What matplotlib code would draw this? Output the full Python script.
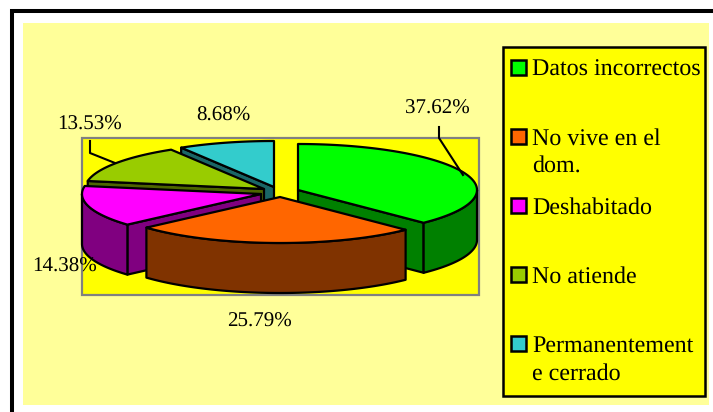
import numpy as np
import matplotlib
matplotlib.use("Agg")
import matplotlib.pyplot as plt
from matplotlib.patches import Polygon, Rectangle

plt.rcParams['font.family'] = ['Liberation Serif', 'DejaVu Serif']
plt.rcParams['text.hinting'] = 'none'

categories = ["Datos incorrectos", "No vive en el\ndom.", "Deshabitado", "No atiende", "Permanentement\ne cerrado"]
percentages = [37.62, 25.79, 14.38, 13.53, 8.68]
top_colors = ["#00FF00", "#FF6600", "#FF00FF", "#99CC00", "#33CCCC"]
side_colors = ["#008000", "#803300", "#800080", "#4D6600", "#1A6666"]

# layout, in pixels of the 713x412 picture
apex = [(298, 190), (280, 197), (261, 194), (264, 189), (274, 187)]
label_pos = [(437.5, 114), (259, 327), (64.5, 272), (90, 130), (223, 121)]
rx, ry, depth = 179, 46, 50
label_fs = 21 * 72 / 100
legend_fs = 24 * 72 / 100

fig = plt.figure(figsize=(7.13, 4.12), dpi=100, facecolor="white")
ax = fig.add_axes([0, 0, 1, 1])
ax.set_xlim(0, 713)
ax.set_ylim(412, 0)
ax.axis("off")

# page frame and chart area
ax.plot([11.5, 11.5, 713], [412, 11, 11], color="black", lw=2.9, solid_joinstyle="miter")
ax.add_patch(Rectangle((23, 23), 686, 382, fc="#FFFF99", ec="none"))
ax.add_patch(Rectangle((82, 138), 396.5, 157, fc="#FFFF00", ec="#808080", lw=1.6))


def rim_point(cx, cy, t):
    return cx + rx * np.sin(t), cy - ry * np.cos(t)


def arc(cx, cy, t0, t1):
    ts = np.linspace(t0, t1, 80)
    return np.column_stack(rim_point(cx, cy, ts))


def draw(points, color, z):
    ax.add_patch(Polygon(points, closed=True, fc=color, ec="black", lw=1.6, joinstyle="round", zorder=z))


def draw_cut_face(cx, cy, t, color, z):
    x, y = rim_point(cx, cy, t)
    draw([(cx, cy), (x, y), (x, y + depth), (cx, cy + depth)], color, z)


edges = np.radians(np.concatenate([[0], np.cumsum(percentages)]) * 3.6)
# back to front, same order the slices overlap in the picture
z = 3
for i in [4, 3, 0, 2, 1]:
    cx, cy = apex[i]
    t0, t1 = edges[i], edges[i + 1]
    if i == 0:
        draw_cut_face(cx, cy, t1, side_colors[i], z)
    elif i in (2, 3, 4):
        draw_cut_face(cx, cy, t0, side_colors[i], z)
    # outer wall, only the part that faces the viewer
    a, b = max(t0, np.pi / 2), min(t1, 3 * np.pi / 2)
    if a < b:
        upper = arc(cx, cy, a, b)
        lower = upper[::-1] + [0, depth]
        draw(np.vstack([upper, lower]), side_colors[i], z)
    draw(np.vstack([[(cx, cy)], arc(cx, cy, t0, t1)]), top_colors[i], z)
    z += 1

# leader lines
ax.plot([439, 439, 463], [127, 138, 175], color="black", lw=1.5, zorder=9)
ax.plot([90, 90, 115], [141, 153, 163], color="black", lw=1.5, zorder=2.5)

for p, (x, y) in zip(percentages, label_pos):
    ax.text(x, y, f"{p:.2f}%", ha="center", va="baseline", fontsize=label_fs, color="black", zorder=10)

# legend
ax.add_patch(Rectangle((503, 47), 202, 349, fc="#FFFF00", ec="black", lw=1.8, zorder=5))
swatch_y = [60, 129, 198, 267, 336]
for name, color, y in zip(categories, top_colors, swatch_y):
    ax.add_patch(Rectangle((511, y), 15, 15, fc=color, ec="black", lw=1.8, zorder=6))
    for k, line in enumerate(name.split("\n")):
        ax.text(532, y + 16 + k * 28, line, ha="left", va="baseline", fontsize=legend_fs, color="black", zorder=6)

fig.savefig("out.png", dpi=100, facecolor="white")
